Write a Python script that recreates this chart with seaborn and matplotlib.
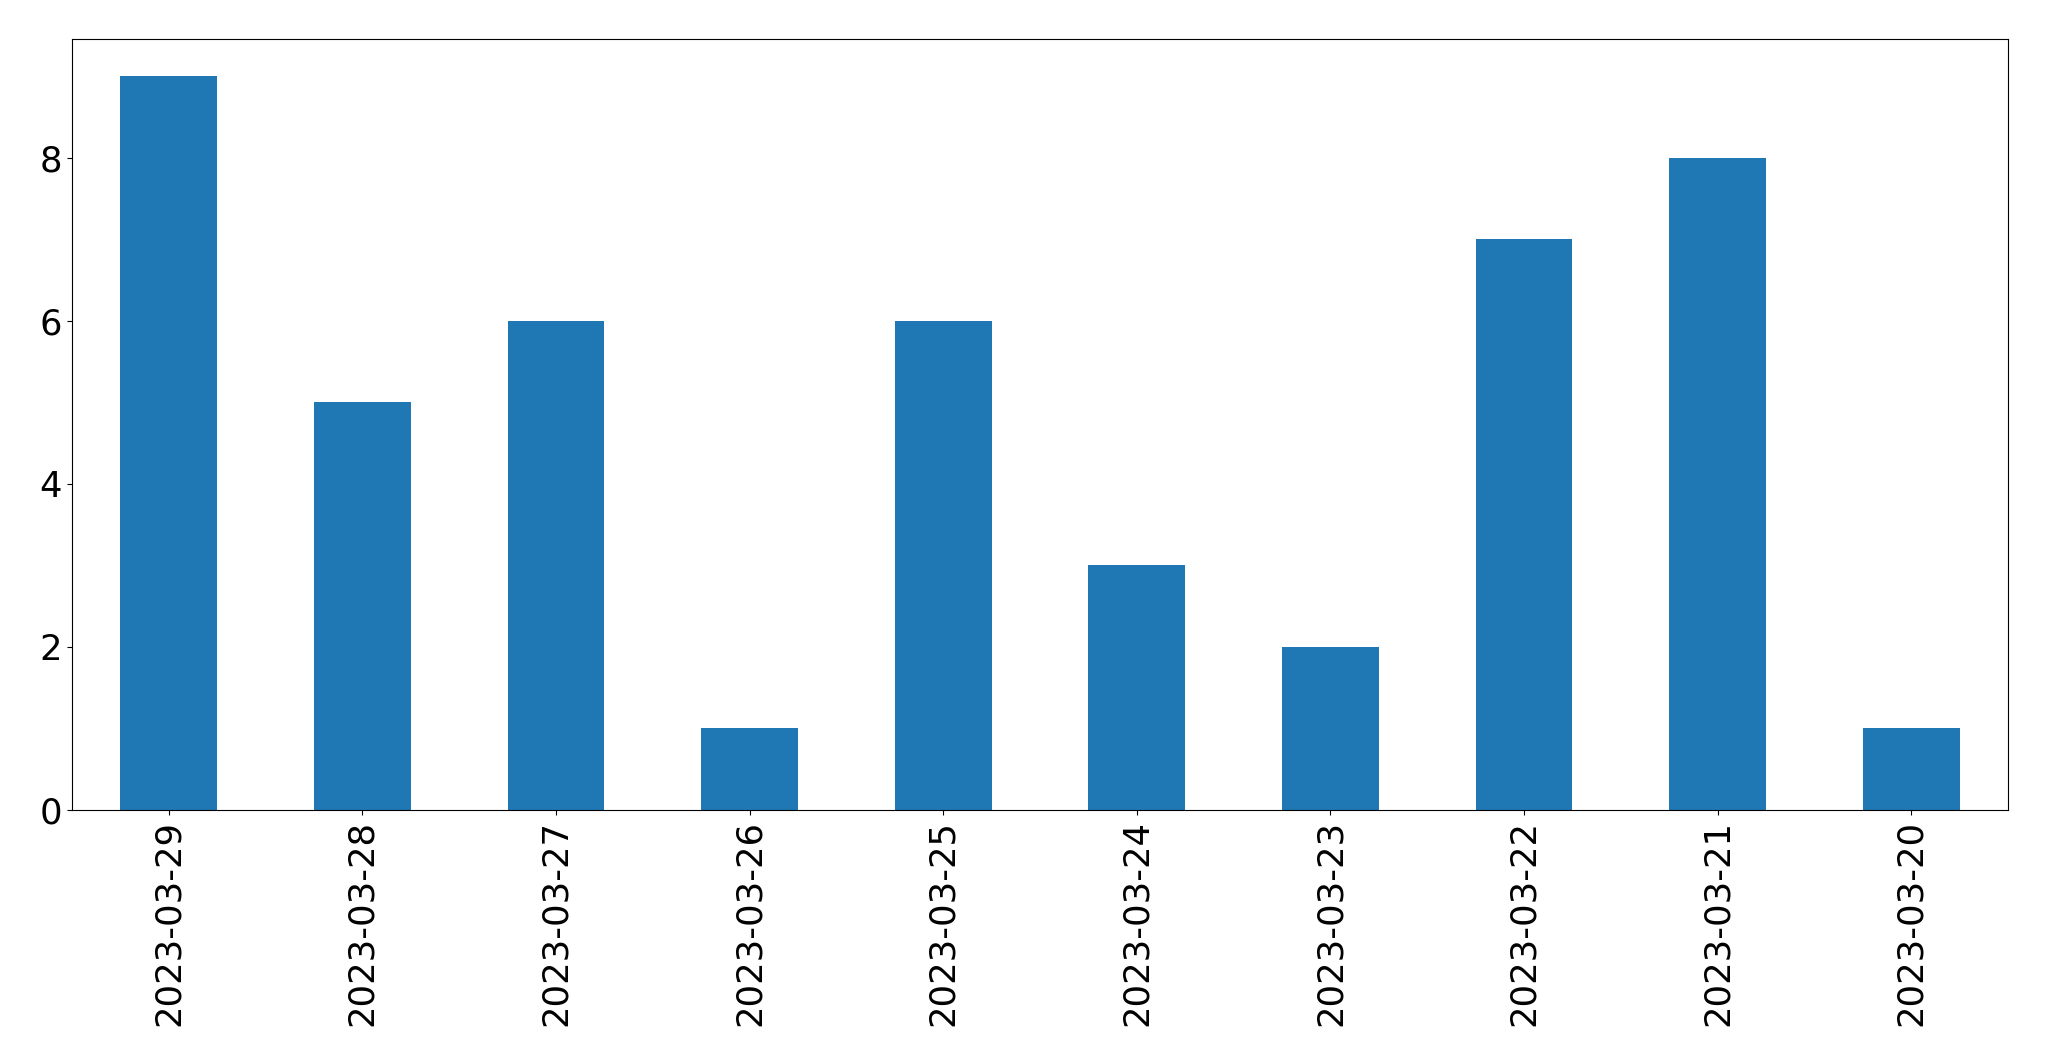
import matplotlib
matplotlib.use("Agg")
import matplotlib.pyplot as plt
import seaborn as sns
import pandas as pd

dates = ["2023-03-29", "2023-03-28", "2023-03-27", "2023-03-26", "2023-03-25",
         "2023-03-24", "2023-03-23", "2023-03-22", "2023-03-21", "2023-03-20"]
counts = [9, 5, 6, 1, 6, 3, 2, 7, 8, 1]

df = pd.DataFrame({"date": dates, "count": counts})

# plain matplotlib look, black text
plt.rcParams['font.family'] = ['DejaVu Sans']

fig = plt.figure(figsize=(20.49, 10.61), dpi=100)
ax = fig.add_axes([0.0351, 0.2366, 0.9449, 0.7264])
sns.barplot(data=df, x="date", y="count", order=dates, color="#1f77b4",
            saturation=1, width=0.5, linewidth=0, ax=ax)

ax.set_xlim(-0.5, len(dates) - 0.5)
ax.set_ylim(0, 9.45)
ax.set_xlabel("")
ax.set_ylabel("")
ax.tick_params(axis="both", labelsize=25.5, colors="black")
plt.setp(ax.get_xticklabels(), rotation=90)

fig.savefig("out.png", dpi=100)
